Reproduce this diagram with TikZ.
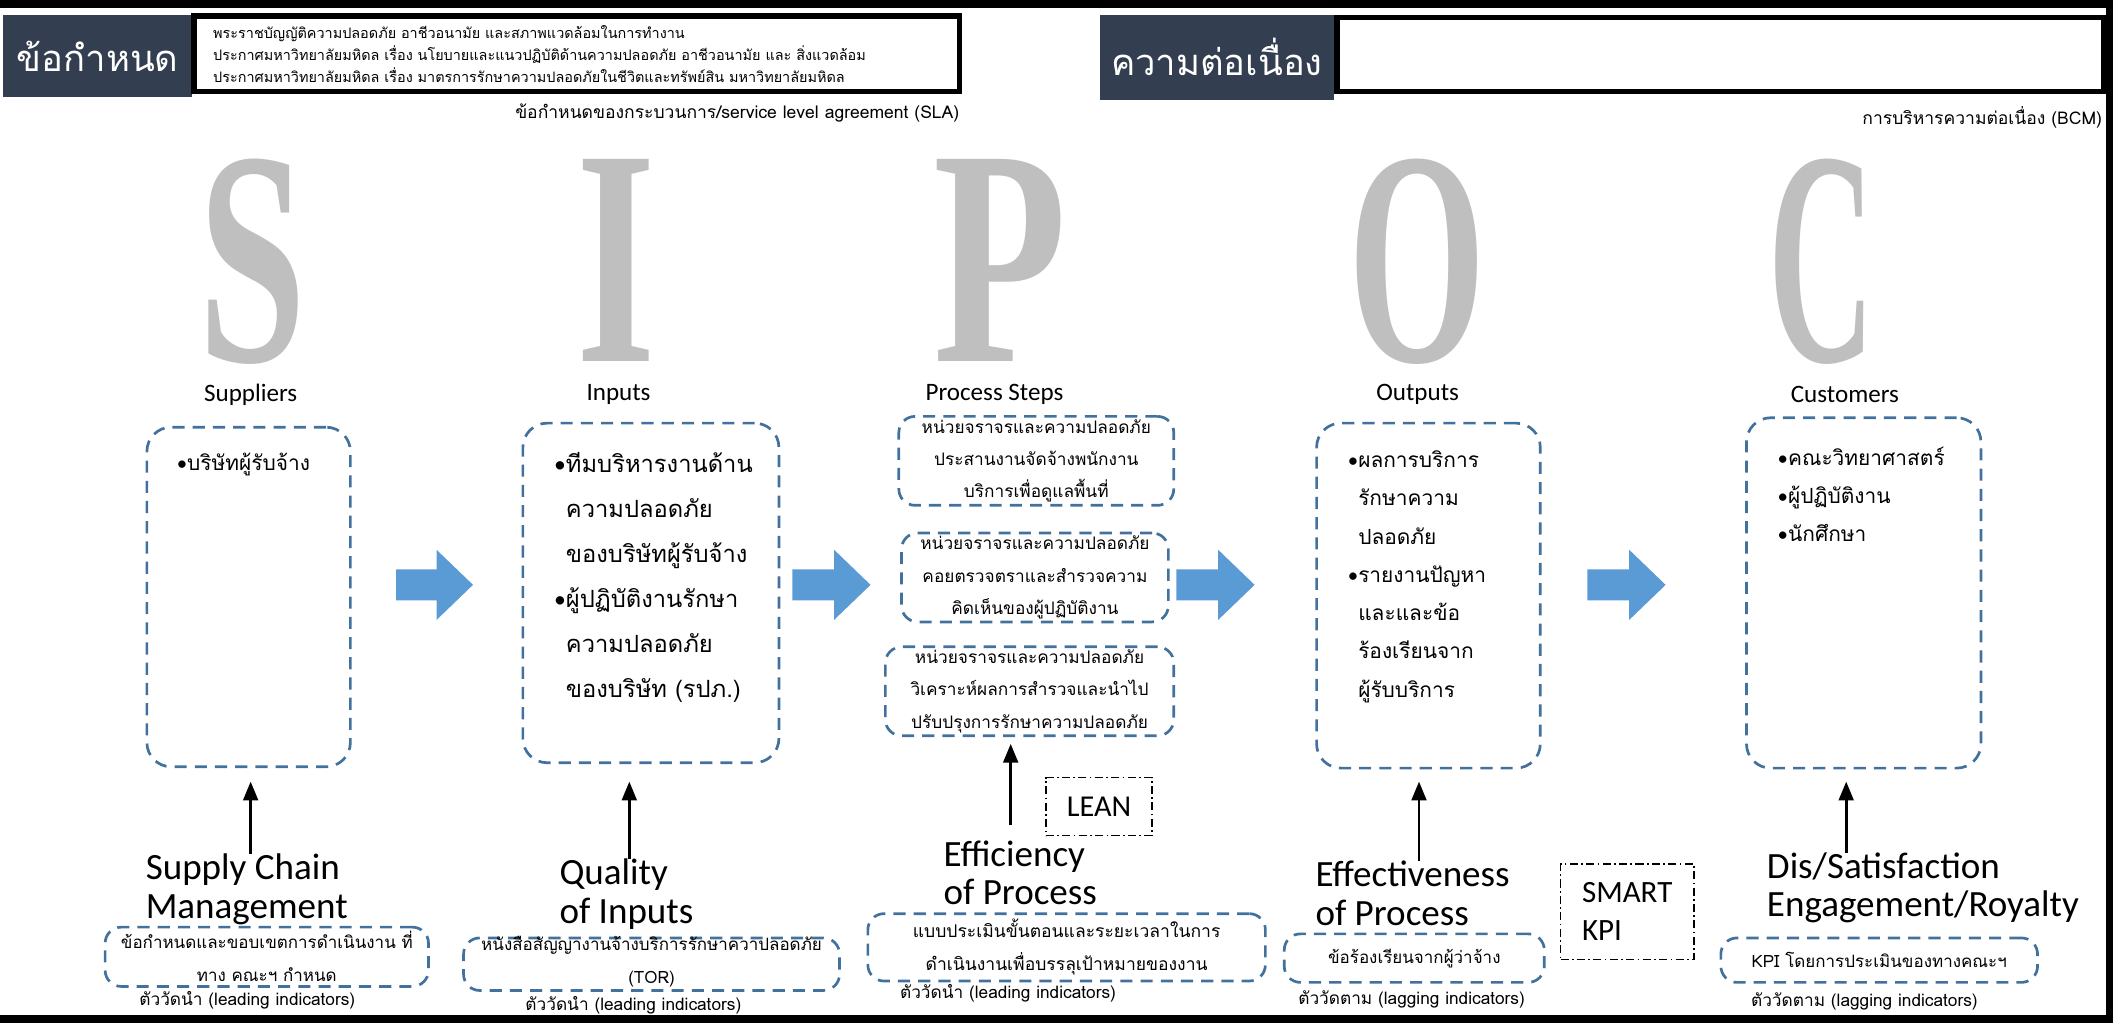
\documentclass[tikz,border=0pt]{standalone}
\usepackage{fontspec}
\setmainfont{Carlito}
\newfontfamily\thaifont[Script=Thai]{Loma}
\newfontfamily\carl{Carlito}
\newfontfamily\sipocfont{Liberation Serif}
\usetikzlibrary{arrows.meta}
\definecolor{hdrfill}{RGB}{51,63,80}
\definecolor{dashblue}{RGB}{65,113,156}
\definecolor{flowblue}{RGB}{91,155,213}
\definecolor{letgray}{RGB}{191,191,191}
\newcommand\bul{{\carl\textbullet}}
\newcommand\bigletter[3]{\resizebox{#2pt}{#3pt}{\sipocfont\bfseries #1}}
\begin{document}
\begin{tikzpicture}[x=1pt,y=-1pt,
 hdr/.style={fill=hdrfill,text=white,inner sep=0pt,font=\thaifont\fontsize{27}{30}\selectfont},
 hbox/.style={draw=black,line width=4pt,inner sep=0pt},
 dbox/.style={draw=dashblue,line width=2pt,dash pattern=on 9pt off 6pt,rounded corners=18pt,inner sep=0pt},
 sbox/.style={dbox,rounded corners=12pt,align=center},
 ddbox/.style={draw=black,line width=1.3pt,dash pattern=on 6pt off 2.5pt on 1.2pt off 2.5pt,inner sep=0pt},
 letr/.style={text=letgray,inner sep=0pt,text height=150pt,text depth=0pt},
 lbl/.style={font=\fontsize{18.6}{22}\selectfont,inner sep=0pt},
 measure/.style={font=\fontsize{27.5}{28.5}\selectfont,align=left,inner sep=0pt,anchor=west},
 uparr/.style={-{Triangle[length=14pt,width=11pt]},line width=2pt},
 flow/.style={fill=flowblue},
 edgebar/.style={fill=black},
 thhead/.style={font=\thaifont\fontsize{10.7}{16.5}\selectfont},
 thnote/.style={font=\thaifont\fontsize{13}{15}\selectfont,inner sep=0pt},
 thstep/.style={font=\thaifont\fontsize{12.8}{24}\selectfont},
 thbot/.style={font=\thaifont\fontsize{12.6}{24.5}\selectfont},
 thmain/.style={font=\thaifont\fontsize{15.5}{28.4}\selectfont,align=left,anchor=west,inner sep=0pt},
 thinp/.style={font=\thaifont\fontsize{17.6}{33.4}\selectfont,align=left,anchor=west,inner sep=0pt},
 thind/.style={font=\thaifont\fontsize{12.8}{14}\selectfont,inner sep=0pt}]
\useasboundingbox (0,0) rectangle (1568,759);
% frame
\fill[edgebar] (0,0) rectangle (1568,6);
\fill[edgebar] (0,753) rectangle (1568,759);
\fill[edgebar] (1563,0) rectangle (1568,759);
% header
\node[hdr,minimum width=140pt,minimum height=61pt] (reqhd) at (72.5,41.5) {ข้อกำหนด};
\node[hbox,minimum width=568pt,minimum height=56pt] (reqbox) at (428,40) {};
\node[thhead,align=left,anchor=west,inner sep=0pt] (reqtxt) at (158,40) {พระราชบัญญัติความปลอดภัย อาชีวอนามัย และสภาพแวดล้อมในการทำงาน\\ประกาศมหาวิทยาลัยมหิดล เรื่อง นโยบายและแนวปฏิบัติด้านความปลอดภัย อาชีวอนามัย และ สิ่งแวดล้อม\\ประกาศมหาวิทยาลัยมหิดล เรื่อง มาตรการรักษาความปลอดภัยในชีวิตและทรัพย์สิน มหาวิทยาลัยมหิดล};
\node[thnote,anchor=east] (sla) at (712,84) {ข้อกำหนดของกระบวนการ/service level agreement (SLA)};
\node[hdr,minimum width=174pt,minimum height=63pt] (conthd) at (903,42.5) {ความต่อเนื่อง};
\node[hbox,minimum width=569pt,minimum height=55pt] (contbox) at (1276.5,40.5) {};
\node[thnote,anchor=east] (bcm) at (1560,87) {การบริหารความต่อเนื่อง (BCM)};
% SIPOC letters
\node[letr] (letS) at (187,193) {\bigletter{S}{80}{150}};
\node[letr] (letI) at (457,193) {\bigletter{I}{59}{150}};
\node[letr] (letP) at (742,193) {\bigletter{P}{99}{150}};
\node[letr] (letO) at (1052,193) {\bigletter{O}{102}{150}};
\node[letr] (letC) at (1351.5,193) {\bigletter{C}{79}{150}};
\node[lbl] (supl) at (186,293) {Suppliers};
\node[lbl] (inpl) at (459,293) {Inputs};
\node[lbl] (prol) at (738,293) {Process Steps};
\node[lbl] (outl) at (1052,293) {Outputs};
\node[lbl] (cusl) at (1369,293) {Customers};
% boxes
\node[dbox,minimum width=151pt,minimum height=252pt] (supbox) at (184.5,443) {};
\node[thmain] (suptxt) at (131,345) {\bul บริษัทผู้รับจ้าง};
\node[dbox,minimum width=190pt,minimum height=252pt] (inpbox) at (483,440) {};
\node[thinp] (inptxt) at (411,428.5) {\bul ทีมบริหารงานด้าน\\\hphantom{\bul}ความปลอดภัย\\\hphantom{\bul}ของบริษัทผู้รับจ้าง\\\bul ผู้ปฏิบัติงานรักษา\\\hphantom{\bul}ความปลอดภัย\\\hphantom{\bul}ของบริษัท (รปภ.)};
\node[sbox,thstep,minimum width=204pt,minimum height=66pt] (step1) at (769,342) {หน่วยจราจรและความปลอดภัย\\ประสานงานจัดจ้างพนักงาน\\บริการเพื่อดูแลพื้นที่};
\node[sbox,thstep,minimum width=198pt,minimum height=66pt] (step2) at (768,428.5) {หน่วยจราจรและความปลอดภัย\\คอยตรวจตราและสำรวจความ\\คิดเห็นของผู้ปฏิบัติงาน};
\node[sbox,thstep,minimum width=214pt,minimum height=66pt] (step3) at (764,513) {หน่วยจราจรและความปลอดภัย\\วิเคราะห์ผลการสำรวจและนำไป\\ปรับปรุงการรักษาความปลอดภัย};
\node[dbox,minimum width=166pt,minimum height=256pt] (outbox) at (1060,442) {};
\node[thmain] (outtxt) at (1000,428) {\bul ผลการบริการ\\\hphantom{\bul}รักษาความ\\\hphantom{\bul}ปลอดภัย\\\bul รายงานปัญหา\\\hphantom{\bul}และและข้อ\\\hphantom{\bul}ร้องเรียนจาก\\\hphantom{\bul}ผู้รับบริการ};
\node[dbox,minimum width=174pt,minimum height=260pt] (cusbox) at (1383,440) {};
\node[thmain] (custxt) at (1319,367) {\bul คณะวิทยาศาสตร์\\\bul ผู้ปฏิบัติงาน\\\bul นักศึกษา};
% flow arrows
\fill[flow] (294,422.5) -- ++(30,0) -- ++(0,-14.5) -- ++(27,26) -- ++(-27,26) -- ++(0,-14.5) -- ++(-30,0) -- cycle;
\fill[flow] (588,422.5) -- ++(31,0) -- ++(0,-14.5) -- ++(27,26) -- ++(-27,26) -- ++(0,-14.5) -- ++(-31,0) -- cycle;
\fill[flow] (873,422.5) -- ++(31,0) -- ++(0,-14.5) -- ++(27,26) -- ++(-27,26) -- ++(0,-14.5) -- ++(-31,0) -- cycle;
\fill[flow] (1178,422.5) -- ++(31,0) -- ++(0,-14.5) -- ++(27,26) -- ++(-27,26) -- ++(0,-14.5) -- ++(-31,0) -- cycle;
% measures
\node[measure] (scm) at (108,660) {Supply Chain\\Management};
\node[measure] (qoi) at (415,663.5) {Quality\\of Inputs};
\node[measure] (eff) at (700,647.5) {Efficiency\\of Process};
\node[measure] (efv) at (976,663) {Effectiveness\\of Process};
\node[measure] (sat) at (1311,659) {Dis/Satisfaction\\Engagement/Royalty};
\node[ddbox,minimum width=79pt,minimum height=43pt,font=\fontsize{22.5}{24}\selectfont] (lean) at (815.5,598.5) {LEAN};
\node[ddbox,minimum width=99pt,minimum height=71pt,font=\fontsize{23}{28}\selectfont,align=left] (smart) at (1207.5,676.5) {SMART\\KPI};
\coordinate (tip1) at (186,580);
\coordinate (tip2) at (467,580);
\coordinate (tip3) at (750,552);
\coordinate (base3) at (750,612);
\coordinate (tip4) at (1053,580);
\coordinate (tip5) at (1370,580);
\draw[uparr] (tip1 |- scm.north) -- (tip1);
\draw[uparr] (tip2 |- qoi.north) -- (tip2);
\draw[uparr] (base3) -- (tip3);
\draw[uparr] (tip4 |- efv.north) -- (tip4);
\draw[uparr] (tip5 |- sat.north) -- (tip5);
% documents
\node[sbox,thbot,minimum width=240pt,minimum height=44pt] (supdoc) at (198,710) {ข้อกำหนดและขอบเขตการดำเนินงาน ที่\\ทาง คณะฯ กำหนด};
\node[sbox,minimum width=279pt,minimum height=39pt] (inpdoc) at (483.5,715.5) {};
\node[thbot,align=center,inner sep=0pt] (inpdoct) at (483.5,713.5) {หนังสือสัญญางานจ้างบริการรักษาควาปลอดภัย\\(TOR)};
\node[sbox,thbot,font=\thaifont\fontsize{13}{24.5}\selectfont,minimum width=295pt,minimum height=50pt] (pdoc) at (791.5,703) {แบบประเมินขั้นตอนและระยะเวลาในการ\\ดำเนินงานเพื่อบรรลุเป้าหมายของงาน};
\node[sbox,thbot,minimum width=193pt,minimum height=36pt] (outdoc) at (1049.5,711) {ข้อร้องเรียนจากผู้ว่าจ้าง};
\node[sbox,thbot,minimum width=235pt,minimum height=33pt] (cusdoc) at (1394.5,712.5) {KPI โดยการประเมินของทางคณะฯ};
\node[thind] (ind1) at (183.5,742) {ตัววัดนำ (leading indicators)};
\node[thind] (ind2) at (470,746) {ตัววัดนำ (leading indicators)};
\node[thind] (ind3) at (748,737) {ตัววัดนำ (leading indicators)};
\node[thind] (ind4) at (1047.5,742) {ตัววัดตาม (lagging indicators)};
\node[thind] (ind5) at (1383.5,743) {ตัววัดตาม (lagging indicators)};
\end{tikzpicture}
\end{document}
